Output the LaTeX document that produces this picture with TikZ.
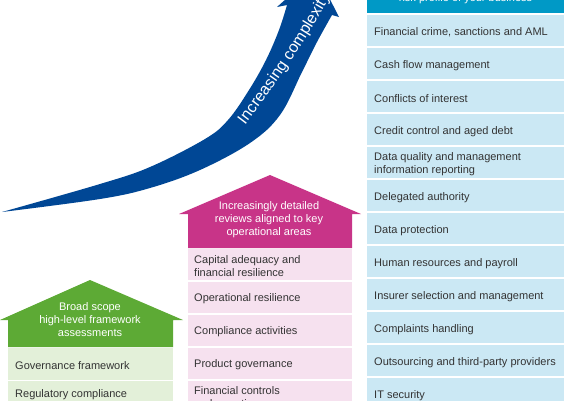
\documentclass[tikz,border=0pt]{standalone}
\usepackage{fontspec}
\setmainfont{Liberation Sans}
\usetikzlibrary{decorations.text}
\definecolor{arrowblue}{HTML}{004795}
\definecolor{greendark}{HTML}{5DAA35}
\definecolor{greenlight}{HTML}{E3F0D9}
\definecolor{pinkdark}{HTML}{C83488}
\definecolor{pinklight}{HTML}{F6E1EF}
\definecolor{bluehead}{HTML}{0099C6}
\definecolor{bluelight}{HTML}{CBE8F4}
\definecolor{textgrey}{HTML}{333333}
\begin{document}
\begin{tikzpicture}[x=1pt,y=-1pt,
  rowtext/.style={anchor=west, inner sep=0pt, align=left, text=textgrey, font=\fontsize{11}{13}\selectfont},
  headtext/.style={inner sep=0pt, align=center, text=white, font=\fontsize{11}{13}\selectfont}]
\useasboundingbox (0,0) rectangle (572,400);

% curved arrow
\fill[arrowblue] plot[smooth,tension=0.6] coordinates {(2,212) (100,199) (150,188) (200,170) (250,143) (280,115) (302,72) (317,42) (332,15)}
  -- (339,17) -- (316,-28) -- (277,7)
  -- plot[smooth,tension=0.6] coordinates {(287,5) (279,30) (266,60) (249,90) (228,120) (205,139) (150,167) (100,184) (2,212)} -- cycle;
\coordinate (tstart) at (245,125);
\coordinate (tend) at (345,-30);
\path[decorate, decoration={text along path, text align=left,
   text={|\fontsize{16}{16}\selectfont\color{white}|Increasing complexity}}]
   (tstart) .. controls (278,82) and (313,30) .. (tend);

% green house
\fill[greendark] (8,347) -- (8,320) -- (0,320) -- (90,280) -- (183,320) -- (173,320) -- (173,347) -- cycle;
\node[headtext] (gh) at (90,320) {Broad scope\\high-level framework\\assessments};
\fill[greenlight] (8,347.5) rectangle (173,379.5);
\fill[greenlight] (8,381) rectangle (173,414);
\node[rowtext] (g1) at (15,365.5) {Governance framework};
\node[rowtext] (g2) at (15,395) {Regulatory compliance};

% pink house
\fill[pinkdark] (188,248) -- (188,214) -- (179,214) -- (270,175) -- (361,214) -- (352,214) -- (352,248) -- cycle;
\node[headtext] (ph) at (269,220) {Increasingly detailed\\reviews aligned to key\\operational areas};
\foreach \t [count=\i from 0] in {{Capital adequacy and\\financial resilience},{Operational resilience},{Compliance activities},{Product governance},{Financial controls\\and reporting}}{
  \fill[pinklight] (188,248.7+33*\i) rectangle (352,247.3+33*\i+33);
  \node[rowtext] (p\i) at (194,248+33*\i+17.8) {\t};
}

% blue column
\fill[bluehead] (367,-10) rectangle (564,13.3);
\node[headtext, anchor=base] (bh) at (465.5,1.5) {risk profile of your business};
\foreach \t [count=\i from 0] in {{Financial crime, sanctions and AML},{Cash flow management},{Conflicts of interest},{Credit control and aged debt},{Data quality and management\\information reporting},{Delegated authority},{Data protection},{Human resources and payroll},{Insurer selection and management},{Complaints handling},{Outsourcing and third-party providers},{IT security}}{
  \fill[bluelight] (367,14.7+33*\i) rectangle (564,13.3+33*\i+33);
  \node[rowtext] (b\i) at (374,14+33*\i+18.5) {\t};
}
\end{tikzpicture}
\end{document}
